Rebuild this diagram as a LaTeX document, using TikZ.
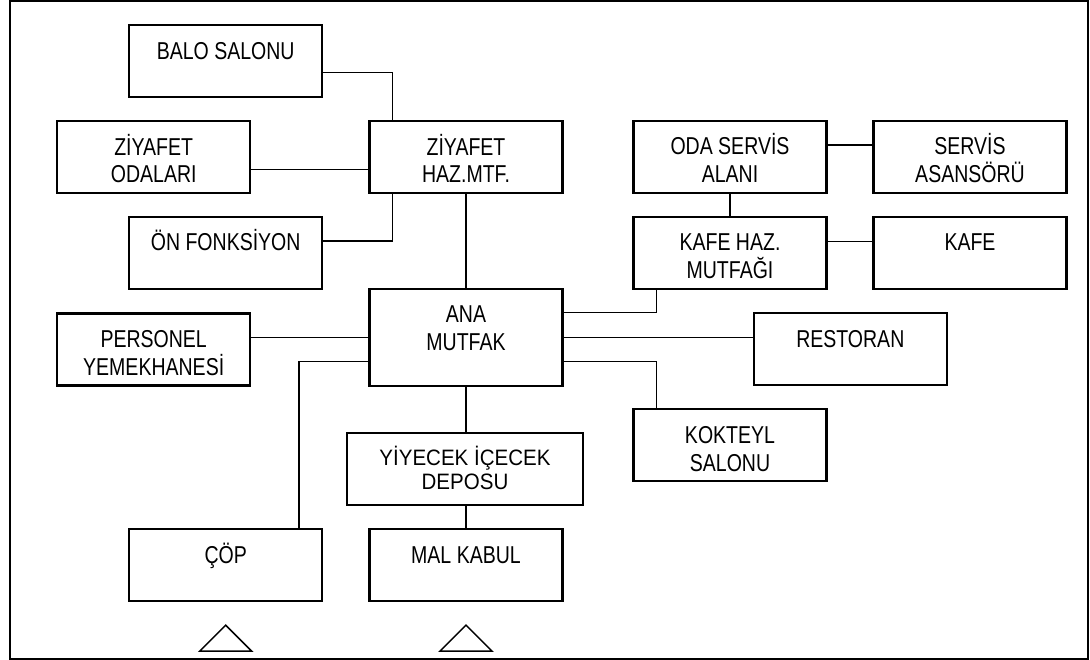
\documentclass[tikz,border=0pt]{standalone}
\usepackage{fontspec}
\setmainfont[FakeStretch=0.80]{Liberation Sans}
\newfontfamily\depofamily[FakeStretch=0.92]{Liberation Sans}
\usepackage{tikz}
\usetikzlibrary{positioning}
\usetikzlibrary{calc}

\newcommand{\roomfont}{\fontsize{24.4pt}{27.7pt}\selectfont}
\newcommand{\depofont}{\depofamily\fontsize{22.3pt}{23.3pt}\selectfont}
\newcommand{\rt}[2][50pt]{\parbox[c][#1][t]{186pt}{\centering\rule{0pt}{23pt}#2}}

\tikzset{
room/.style={draw, line width=2.3pt, rectangle, inner sep=0pt, minimum width=193pt, minimum height=72pt, font=\roomfont},
link/.style={line width=1.3pt},
}

\begin{document}
\begin{tikzpicture}[x={(1pt,0)}, y={(0,-1pt)}]
\useasboundingbox (0,0) rectangle (1090,660);

\draw[line width=2pt] (9.5,1.5) rectangle (1088,658.5);

\node[room] (balo) at (225.7,61.2) {\rt{BALO SALONU}};
\node[room] (zodalar) at (153.7,157.2) {\rt{ZİYAFET\\ODALARI}};
\node[room] (zhaz) at (466,157.2) {\rt{ZİYAFET\\HAZ.MTF.}};
\node[room] (onf) at (225.7,253) {\rt{ÖN FONKSİYON}};
\node[room, minimum height=96.7pt] (ana) at (466,337.3) {\rt[74.7pt]{ANA\\MUTFAK}};
\node[room] (pers) at (153.7,349.5) {\rt{PERSONEL\\YEMEKHANESİ}};
\node[room, minimum width=236pt, font=\depofont] (yiy) at (465,469) {\rt[52.6pt]{YİYECEK İÇECEK\\DEPOSU}};
\node[room] (cop) at (225.7,565.3) {\rt{ÇÖP}};
\node[room] (mal) at (466,565.3) {\rt{MAL KABUL}};

\node[room] (oda) at (730,157) {\rt{ODA SERVİS\\ALANI}};
\node[room] (sasan) at (970,157) {\rt{SERVİS\\ASANSÖRÜ}};
\node[room] (kh) at (730,253) {\rt{KAFE HAZ.\\MUTFAĞI}};
\node[room] (kafe) at (970,253) {\rt{KAFE}};
\node[room] (rest) at (850.3,349.2) {\rt{RESTORAN}};
\node[room] (kok) at (730,445.3) {\rt{KOKTEYL\\SALONU}};

\draw[link] ([yshift=-11.5pt]balo.east) -| ([xshift=24pt]zhaz.north west);
\draw[link] ([yshift=-12pt]zodalar.east) -- ([yshift=-12pt]zhaz.west);
\draw[link] ([yshift=12pt]onf.east) -| ([xshift=24pt]zhaz.south west);
\draw[link] (zhaz.south) -- (ana.north);

\draw[link] ([yshift=12pt]oda.east) -- ([yshift=12pt]sasan.west);
\draw[link] (oda.south) -- (kh.north);
\draw[link] ([yshift=11.3pt]kh.east) -- ([yshift=11.3pt]kafe.west);
\draw[link] ([xshift=24pt]kh.south west) |- ([yshift=24.6pt]ana.east);
\draw[link] (ana.east) -- (ana.east -| rest.west);
\draw[link] ([yshift=-24.4pt]ana.east) -| ([xshift=24pt]kok.north west);

\draw[link] (ana.west -| pers.east) -- (ana.west);
\draw[link] ([yshift=-24pt]ana.west) -| ([xshift=-24.5pt]cop.north east);
\draw[link] (ana.south) -- (ana.south |- yiy.north);
\draw[link] (yiy.south -| mal.north) -- (mal.north);

\draw[line width=1.5pt] ([yshift=-22.7pt]cop.south) -- ++(26,26) -- ++(-52,0) -- cycle;
\draw[line width=1.5pt] ([yshift=-22.7pt]mal.south) -- ++(26,26) -- ++(-52,0) -- cycle;

\end{tikzpicture}
\end{document}
